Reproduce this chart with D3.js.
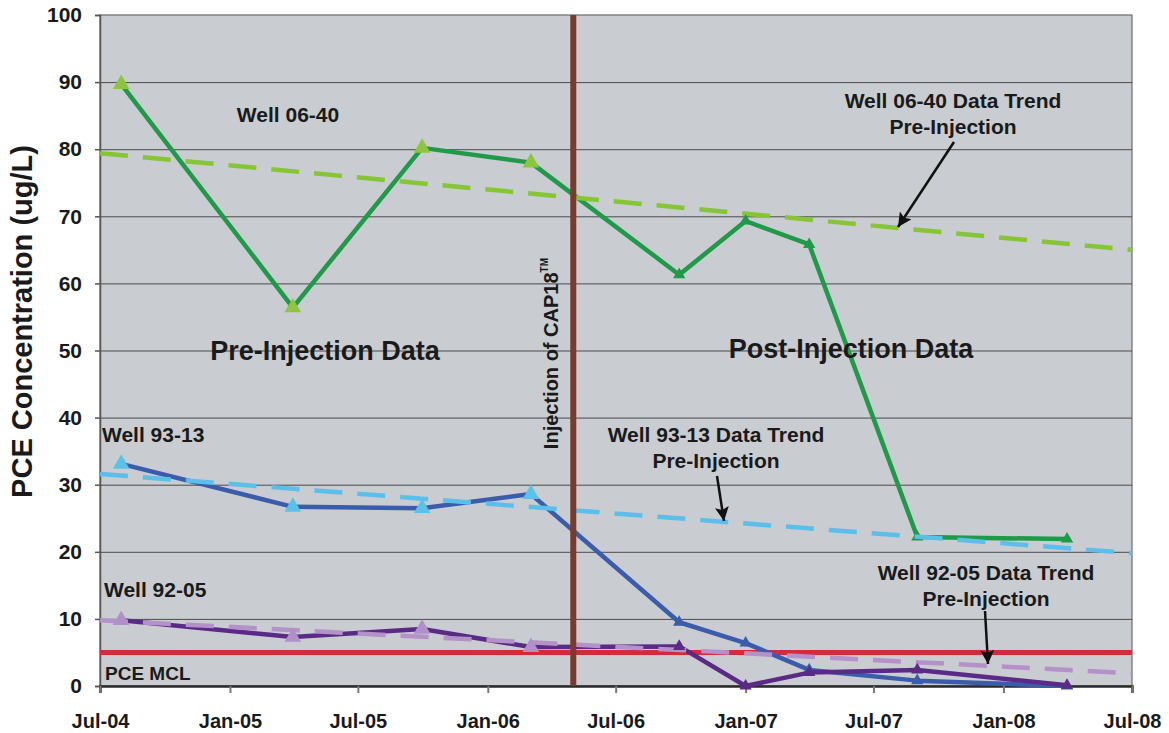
<!DOCTYPE html>
<html>
<head>
<meta charset="utf-8">
<script src="https://cdn.jsdelivr.net/npm/d3@7"></script>
<style>
  body { margin: 0; background: #fff; }
  svg { display: block; font-family: "Liberation Sans", Arial, sans-serif; }
</style>
</head>
<body>
<div id="chart"></div>
<script>
// sampling dates shared by the three wells
const sampleDates = ['2004-07-31', '2005-03-31', '2005-09-30', '2006-03-03', '2006-09-29',
  '2007-01-01', '2007-04-01', '2007-09-01', '2008-03-31'];
const well0640 = [89.7, 56.4, 80.2, 78.0, 61.3, 69.3, 65.8, 22.2, 21.9];
const well9313 = [33.1, 26.7, 26.5, 28.6, 9.5, 6.4, 2.4, 0.8, 0.0];
const well9205 = [9.8, 7.3, 8.5, 5.8, 5.9, 0.0, 2.0, 2.4, 0.1];

// pre-injection trend lines (start / end of the axis)
const trendDates = ['2004-07-01', '2008-07-01'];
const trend0640 = [79.4, 65.0];
const trend9313 = [31.6, 19.8];
const trend9205 = [9.8, 1.9];

const mcl = 5;
const injectionDate = '2006-05-02';

const xTickDates = ['2004-07-01', '2005-01-01', '2005-07-01', '2006-01-01', '2006-07-01',
  '2007-01-01', '2007-07-01', '2008-01-01', '2008-07-01'];
const xTickLabels = ['Jul-04', 'Jan-05', 'Jul-05', 'Jan-06', 'Jul-06', 'Jan-07', 'Jul-07', 'Jan-08', 'Jul-08'];
const yTicks = [0, 10, 20, 30, 40, 50, 60, 70, 80, 90, 100];

const parse = d3.timeParse('%Y-%m-%d');

const wells = [
  {name: '06-40', values: well0640, trend: trend0640, line: '#1f9a48', light: '#8cc63f', dash: '#86c534'},
  {name: '93-13', values: well9313, trend: trend9313, line: '#3a5caa', light: '#5bc2e7', dash: '#5bbfea'},
  {name: '92-05', values: well9205, trend: trend9205, line: '#5b2a86', light: '#b18fc9', dash: '#b491c8'}
];

const width = 1169;
const height = 733;
const margin = {top: 15, right: 37, bottom: 47, left: 100};
const innerW = width - margin.left - margin.right;
const innerH = height - margin.top - margin.bottom;

const svg = d3.select('#chart').append('svg').attr('width', width).attr('height', height);

const defs = svg.append('defs');
defs.append('marker')
  .attr('id', 'arrow')
  .attr('viewBox', '0 0 10 10')
  .attr('refX', 10).attr('refY', 5)
  .attr('markerWidth', 16).attr('markerHeight', 14)
  .attr('markerUnits', 'userSpaceOnUse')
  .attr('orient', 'auto')
  .append('path')
    .attr('d', 'M0,0 L10,5 L0,10 L2,5 Z')
    .attr('fill', '#111');

const x = d3.scaleTime()
  .domain([parse(trendDates[0]), parse(trendDates[1])])
  .range([margin.left, width - margin.right]);
const y = d3.scaleLinear().domain([0, 100]).range([height - margin.bottom, margin.top]);

// plot background
svg.append('rect')
  .attr('x', margin.left).attr('y', margin.top)
  .attr('width', innerW).attr('height', innerH)
  .attr('fill', '#c9ccd1')
  .attr('stroke', '#6b6b6b').attr('stroke-width', 1.2);

// gridlines
svg.append('g')
  .attr('transform', `translate(${margin.left},0)`)
  .call(d3.axisLeft(y).tickValues(yTicks.slice(1, -1)).tickSize(-innerW).tickFormat(''))
  .call(g => g.select('.domain').remove())
  .call(g => g.selectAll('line').attr('stroke', '#4a4a4a').attr('stroke-width', 1));

// y axis
const yAxis = svg.append('g')
  .attr('transform', `translate(${margin.left},0)`)
  .call(d3.axisLeft(y).tickValues(yTicks).tickSize(5).tickPadding(13));
yAxis.select('.domain').attr('stroke', '#555').attr('stroke-width', 1.5);
yAxis.selectAll('line').attr('stroke', '#555').attr('stroke-width', 1.5);
yAxis.selectAll('text')
  .attr('font-size', 21).attr('font-weight', 'bold').attr('fill', '#1a1a1a')
  .attr('font-family', '"Liberation Sans", Arial, sans-serif');

// x axis
const xAxis = svg.append('g')
  .attr('transform', `translate(0,${height - margin.bottom})`)
  .call(d3.axisBottom(x)
    .tickValues(xTickDates.map(parse))
    .tickFormat((d, i) => xTickLabels[i])
    .tickSize(7).tickPadding(21));
xAxis.select('.domain').attr('stroke', '#2a2a2a').attr('stroke-width', 2.5);
xAxis.selectAll('line').attr('stroke', '#777').attr('stroke-width', 2);
xAxis.selectAll('text')
  .attr('font-size', 20).attr('font-weight', 'bold').attr('fill', '#1a1a1a')
  .attr('font-family', '"Liberation Sans", Arial, sans-serif');

// y axis title
svg.append('text')
  .attr('transform', `translate(32,${(margin.top + height - margin.bottom) / 2 - 29}) rotate(-90)`)
  .attr('text-anchor', 'middle')
  .attr('font-size', 29).attr('font-weight', 'bold').attr('fill', '#1a1a1a')
  .text('PCE Concentration (ug/L)');

// MCL line
svg.append('line')
  .attr('x1', margin.left).attr('x2', width - margin.right)
  .attr('y1', y(mcl)).attr('y2', y(mcl))
  .attr('stroke', '#d42b3b').attr('stroke-width', 5);

const line = d3.line()
  .x(d => x(d.date))
  .y(d => y(d.value));

const injection = parse(injectionDate);

wells.forEach(w => {
  const pts = sampleDates.map((s, i) => ({date: parse(s), value: w.values[i]}));
  const trendPts = trendDates.map((s, i) => ({date: parse(s), value: w.trend[i]}));

  svg.append('path')
    .datum(pts)
    .attr('d', line)
    .attr('fill', 'none')
    .attr('stroke', w.line)
    .attr('stroke-width', 4.5)
    .attr('stroke-linejoin', 'round');

  svg.append('path')
    .datum(trendPts)
    .attr('d', line)
    .attr('fill', 'none')
    .attr('stroke', w.dash)
    .attr('stroke-width', 4.5)
    .attr('stroke-dasharray', '28,15');

  svg.append('g').selectAll('path')
    .data(pts)
    .enter().append('path')
      .attr('transform', d => `translate(${x(d.date)},${y(d.value)})`)
      .attr('d', d => d3.symbol().type(d3.symbolTriangle).size(d.date < injection ? 120 : 65)())
      .attr('fill', d => d.date < injection ? w.light : w.line);
});

// injection line
svg.append('line')
  .attr('x1', x(injection)).attr('x2', x(injection))
  .attr('y1', margin.top).attr('y2', height - margin.bottom)
  .attr('stroke', '#7b3b2c').attr('stroke-width', 6);

const injText = svg.append('text')
  .attr('transform', `translate(${x(injection) - 15},${y(35.3)}) rotate(-90)`)
  .attr('font-size', 20).attr('font-weight', 'bold').attr('fill', '#1a1a1a');
injText.append('tspan').text('Injection of CAP18');
injText.append('tspan').attr('font-size', 10).attr('dy', -10).text('TM');

// annotations
const labels = [
  {text: 'Well 06-40', x: 288, y: 122, size: 21, anchor: 'middle'},
  {text: 'Pre-Injection Data', x: 325, y: 360, size: 27, anchor: 'middle'},
  {text: 'Post-Injection Data', x: 851, y: 358, size: 27, anchor: 'middle'},
  {text: 'Well 06-40 Data Trend', x: 953, y: 108, size: 21, anchor: 'middle'},
  {text: 'Pre-Injection', x: 953, y: 134, size: 21, anchor: 'middle'},
  {text: 'Well 93-13', x: 102, y: 442, size: 21, anchor: 'start'},
  {text: 'Well 93-13 Data Trend', x: 716, y: 442, size: 21, anchor: 'middle'},
  {text: 'Pre-Injection', x: 716, y: 468, size: 21, anchor: 'middle'},
  {text: 'Well 92-05', x: 104, y: 597, size: 21, anchor: 'start'},
  {text: 'Well 92-05 Data Trend', x: 986, y: 580, size: 21, anchor: 'middle'},
  {text: 'Pre-Injection', x: 986, y: 606, size: 21, anchor: 'middle'},
  {text: 'PCE MCL', x: 105, y: 680, size: 19, anchor: 'start'}
];

svg.append('g').selectAll('text')
  .data(labels)
  .enter().append('text')
    .attr('x', d => d.x).attr('y', d => d.y)
    .attr('text-anchor', d => d.anchor)
    .attr('font-size', d => d.size)
    .attr('font-weight', 'bold')
    .attr('fill', '#1a1a1a')
    .text(d => d.text);

const arrows = [
  {x1: 954, y1: 142, x2: 898, y2: 227},
  {x1: 717, y1: 476, x2: 724, y2: 521},
  {x1: 985, y1: 611, x2: 988, y2: 664}
];

svg.append('g').selectAll('line')
  .data(arrows)
  .enter().append('line')
    .attr('x1', d => d.x1).attr('y1', d => d.y1)
    .attr('x2', d => d.x2).attr('y2', d => d.y2)
    .attr('stroke', '#111').attr('stroke-width', 2.5)
    .attr('marker-end', 'url(#arrow)');
</script>
</body>
</html>
